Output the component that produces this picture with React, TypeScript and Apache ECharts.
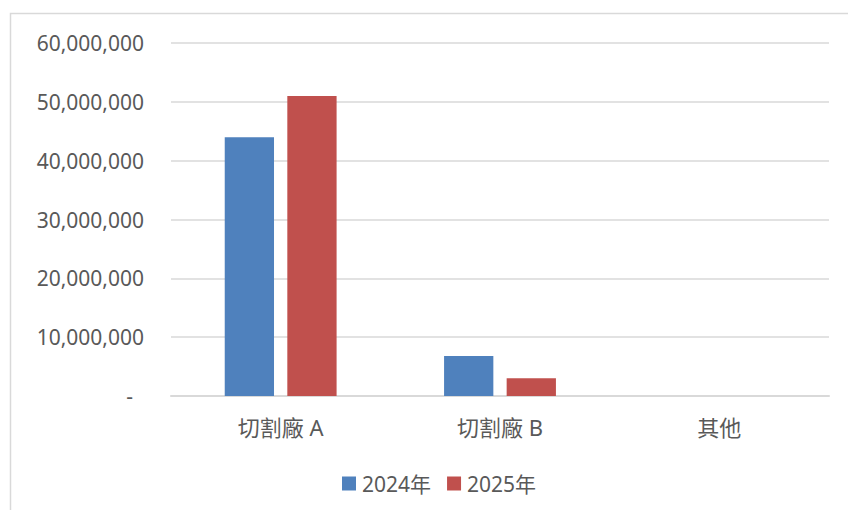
import React, { useEffect, useRef } from "react";
import * as echarts from "echarts";

const categories = ["切割廠 A", "切割廠 B", "其他"];
const series2024 = [44000000, 6800000, 0];
const series2025 = [51000000, 3000000, 0];
const seriesNames = ["2024年", "2025年"];

const FONT = "'Noto Sans', 'Noto Sans CJK TC', sans-serif";

export default function App() {
  const ref = useRef<HTMLDivElement>(null);
  useEffect(() => {
    if (!ref.current) return;
    const chart = echarts.init(ref.current, undefined, { renderer: "svg" });
    chart.setOption({
      animation: false,
      backgroundColor: "#ffffff",
      textStyle: { fontFamily: FONT },
      graphic: [
        {
          type: "rect",
          shape: { x: 10.5, y: 13.5, width: 900, height: 600 },
          style: { fill: "none", stroke: "#D9D9D9", lineWidth: 1.5 },
          silent: true,
        },
      ],
      grid: { left: 171, right: 19, top: 43, bottom: 114, containLabel: false },
      legend: {
        data: seriesNames,
        left: 337,
        top: 468,
        icon: "rect",
        itemWidth: 14,
        itemHeight: 14,
        itemGap: 16,
        textStyle: { fontSize: 21, color: "#595959", fontFamily: FONT, padding: [0, 0, 0, 1] },
      },
      xAxis: {
        type: "category",
        data: categories,
        axisLine: { lineStyle: { color: "#D9D9D9", width: 2 } },
        axisTick: { show: false },
        axisLabel: { fontSize: 22, color: "#595959", margin: 20, fontFamily: FONT },
      },
      yAxis: {
        type: "value",
        min: 0,
        max: 60000000,
        interval: 10000000,
        axisLine: { show: false },
        axisTick: { show: false },
        splitLine: { lineStyle: { color: "#D9D9D9", width: 1.5 } },
        axisLabel: {
          fontSize: 21,
          color: "#595959",
          margin: 27,
          fontFamily: FONT,
          formatter: (v: number) =>
            v === 0 ? "{d|-}" : v.toLocaleString("en-US"),
          rich: {
            d: { fontSize: 21, color: "#595959", padding: [0, 11, 0, 0], fontFamily: FONT },
          },
        },
      },
      series: [
        {
          name: seriesNames[0],
          type: "bar",
          data: series2024,
          itemStyle: { color: "#4F81BD" },
          barGap: "27%",
          barCategoryGap: "49%",
        },
        {
          name: seriesNames[1],
          type: "bar",
          data: series2025,
          itemStyle: { color: "#C0504D" },
        },
      ],
    });
    return () => chart.dispose();
  }, []);
  return (
    <div
      ref={ref}
      style={{ position: "fixed", left: 0, top: 0, width: 848, height: 510 }}
    />
  );
}
